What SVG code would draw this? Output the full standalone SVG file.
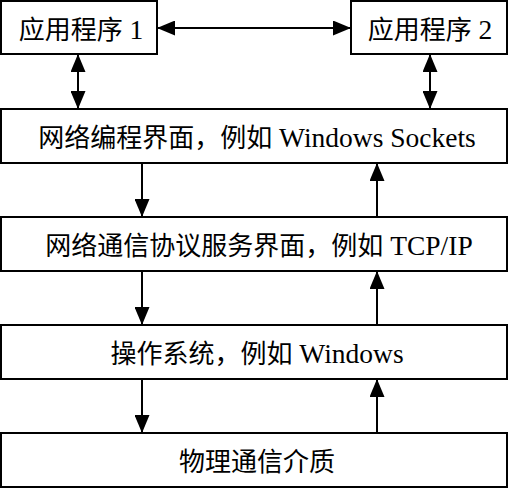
<svg xmlns="http://www.w3.org/2000/svg" width="508" height="489" viewBox="0 0 508 489">
<style>
.box{fill:#fff;stroke:#000;stroke-width:2}
.t{font-family:"Liberation Serif","Noto Sans CJK SC",serif;font-size:26px;fill:#000;text-anchor:middle}
.l{font-size:27.5px}
.c{stroke:#000;stroke-width:2;fill:none}
</style>
<defs>
<marker id="ah" markerUnits="userSpaceOnUse" markerWidth="18" markerHeight="15" refX="17" refY="7.5" orient="auto-start-reverse" viewBox="0 0 18 15">
<path d="M0,0 L18,7.5 L0,15 z" fill="#000"/>
</marker>
</defs>
<rect width="508" height="489" fill="#fff"/>
<g id="connectors">
<line class="c" x1="158" y1="28" x2="350" y2="28" marker-start="url(#ah)" marker-end="url(#ah)"/>
<line class="c" x1="78" y1="55" x2="78" y2="108" marker-start="url(#ah)" marker-end="url(#ah)"/>
<line class="c" x1="430" y1="55" x2="430" y2="108" marker-start="url(#ah)" marker-end="url(#ah)"/>
<line class="c" x1="142" y1="163" x2="142" y2="216" marker-end="url(#ah)"/>
<line class="c" x1="377" y1="217" x2="377" y2="164" marker-end="url(#ah)"/>
<line class="c" x1="142" y1="271" x2="142" y2="324" marker-end="url(#ah)"/>
<line class="c" x1="377" y1="325" x2="377" y2="272" marker-end="url(#ah)"/>
<line class="c" x1="142" y1="379" x2="142" y2="432" marker-end="url(#ah)"/>
<line class="c" x1="377" y1="433" x2="377" y2="380" marker-end="url(#ah)"/>
</g>
<g id="app1">
<rect class="box" x="1" y="1" width="156" height="53"/>
<text class="t" x="81" y="39">应用程序<tspan class="l"> 1</tspan></text>
</g>
<g id="app2">
<rect class="box" x="351" y="1" width="156" height="53"/>
<text class="t" x="430" y="39">应用程序<tspan class="l"> 2</tspan></text>
</g>
<g id="sockets">
<rect class="box" x="1" y="109" width="506" height="54"/>
<text class="t" x="257" y="147">网络编程界面，例如<tspan class="l"> Windows Sockets</tspan></text>
</g>
<g id="tcpip">
<rect class="box" x="1" y="217" width="506" height="54"/>
<text class="t" x="259" y="255">网络通信协议服务界面，例如<tspan class="l"> TCP/IP</tspan></text>
</g>
<g id="os">
<rect class="box" x="1" y="325" width="506" height="54"/>
<text class="t" x="257" y="363">操作系统，例如<tspan class="l"> Windows</tspan></text>
</g>
<g id="medium">
<rect class="box" x="1" y="433" width="506" height="54"/>
<text class="t" x="257" y="471">物理通信介质</text>
</g>
</svg>
